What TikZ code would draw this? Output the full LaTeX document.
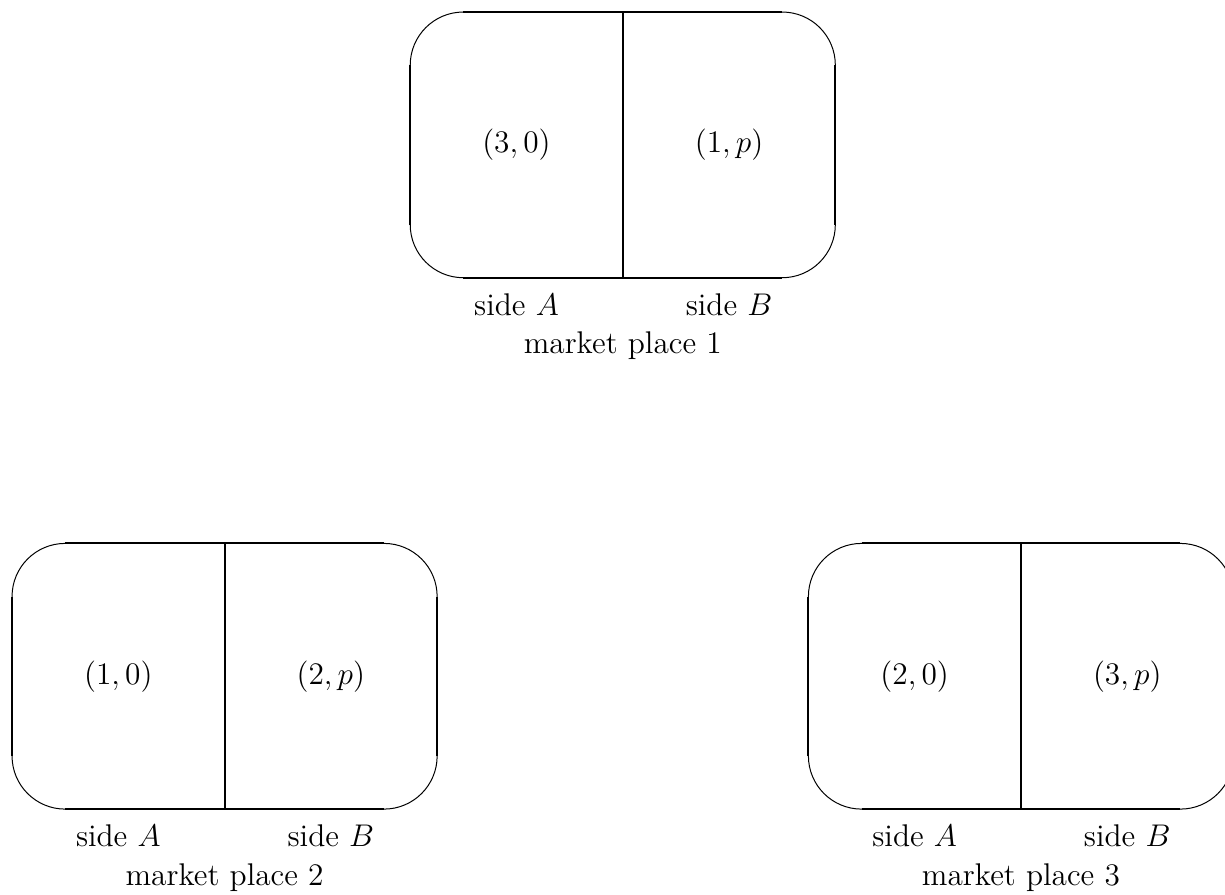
\documentclass[12pt,tikz,border=0pt]{standalone}
\usepackage{fix-cm}
\usepackage{amsmath}
\usepackage{tikz}

\begin{document}
\begin{tikzpicture}[font=\fontsize{12.6}{15.2}\selectfont,
  frame/.style={line width=0.4pt, rounded corners=0.75cm},
  edge/.style={line width=0.8pt}]
\useasboundingbox (0,0) rectangle (17.29,12.62);
% market place 1
\begin{scope}[shift={(5.79,8.7)}]
\draw[frame] (0,0) rectangle (6,3.75);
\draw[edge] (0.75,0) -- (5.25,0) (0.75,3.75) -- (5.25,3.75) (0,0.75) -- (0,3) (6,0.75) -- (6,3) (3,0) -- (3,3.75);
\node (pay1A) at (1.5,1.875) {$(3,0)$};
\node (pay1B) at (4.5,1.875) {$(1,p)$};
\node[anchor=base] (side1A) at (1.5,-0.53) {side $A$};
\node[anchor=base] (side1B) at (4.5,-0.53) {side $B$};
\node[anchor=base] (name1) at (3,-1.075) {market place 1};
\end{scope}
% market place 2
\begin{scope}[shift={(0.17,1.2)}]
\draw[frame] (0,0) rectangle (6,3.75);
\draw[edge] (0.75,0) -- (5.25,0) (0.75,3.75) -- (5.25,3.75) (0,0.75) -- (0,3) (6,0.75) -- (6,3) (3,0) -- (3,3.75);
\node (pay2A) at (1.5,1.875) {$(1,0)$};
\node (pay2B) at (4.5,1.875) {$(2,p)$};
\node[anchor=base] (side2A) at (1.5,-0.53) {side $A$};
\node[anchor=base] (side2B) at (4.5,-0.53) {side $B$};
\node[anchor=base] (name2) at (3,-1.075) {market place 2};
\end{scope}
% market place 3
\begin{scope}[shift={(11.41,1.2)}]
\draw[frame] (0,0) rectangle (6,3.75);
\draw[edge] (0.75,0) -- (5.25,0) (0.75,3.75) -- (5.25,3.75) (0,0.75) -- (0,3) (6,0.75) -- (6,3) (3,0) -- (3,3.75);
\node (pay3A) at (1.5,1.875) {$(2,0)$};
\node (pay3B) at (4.5,1.875) {$(3,p)$};
\node[anchor=base] (side3A) at (1.5,-0.53) {side $A$};
\node[anchor=base] (side3B) at (4.5,-0.53) {side $B$};
\node[anchor=base] (name3) at (3,-1.075) {market place 3};
\end{scope}
\end{tikzpicture}
\end{document}
